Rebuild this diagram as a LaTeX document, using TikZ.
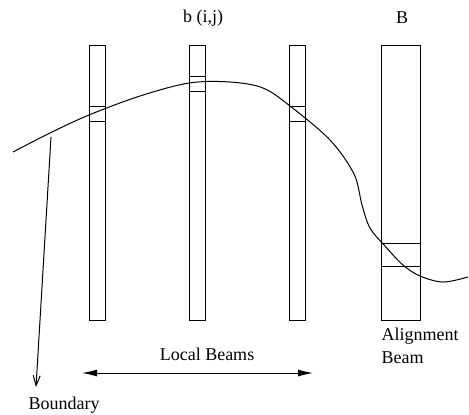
\documentclass[tikz,border=0pt]{standalone}
\usepackage{fontspec}
\setmainfont{Liberation Serif}
\usetikzlibrary{arrows.meta}
\begin{document}
\begin{tikzpicture}[x=0.5pt,y=-0.5pt,line width=0.5pt,
  beam/.style={draw,inner sep=0pt,anchor=north west,minimum width=8pt,minimum height=137.5pt},
  bigbeam/.style={draw,inner sep=0pt,anchor=north west,minimum width=19.5pt,minimum height=137.5pt},
  cell/.style={draw,inner sep=0pt,anchor=north west,minimum width=8pt,minimum height=7.5pt},
  lbl/.style={font=\fontsize{9}{11.5}\selectfont,inner sep=0pt}]
\useasboundingbox (0,0) rectangle (469,414);
\node[beam] (b1) at (89,45) {};
\node[beam] (b2) at (189,45) {};
\node[beam] (b3) at (289,45) {};
\node[bigbeam] (B) at (381,45) {};
\node[cell] (c1) at (89,106) {};
\node[cell] (c2) at (189,76) {};
\node[cell] (c3) at (289,106) {};
\node[cell,minimum width=19.5pt,minimum height=11.5pt] (cB) at (381,243) {};
\node[lbl] (tb) at (203,18) {b (i,j)};
\node[lbl] (tB) at (402,18) {B};
\node[lbl] (tl) at (207,354) {Local Beams};
\node[lbl,anchor=north west,align=left] (ta) at (381,327) {Alignment\\Beam};
\node[lbl] (tbd) at (64,405) {Boundary};
\draw plot[smooth,tension=0.55] coordinates {(13,152) (50,133) (89,115) (140,96) (189,83) (230,82) (263,88) (290,106) (330,140) (354,174) (362,205) (370,228) (385,246) (403,265) (420,276) (443,282) (468,277)};
\coordinate (s) at (51,137);
\coordinate (e) at (36,387);
\draw[-{Straight Barb[length=5pt,width=3.5pt]}] (s) -- (e);
\coordinate (l1) at (82,373);
\coordinate (l2) at (313,373);
\draw[{Latex[length=7.5pt,width=3.5pt]}-{Latex[length=7.5pt,width=3.5pt]}] (l1) -- (l2);
\end{tikzpicture}
\end{document}
